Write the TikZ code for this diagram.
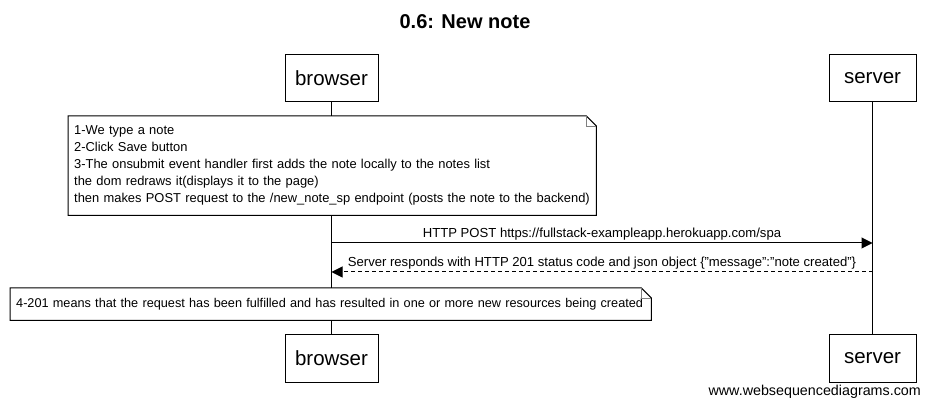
\documentclass[tikz,border=0pt]{standalone}
\usepackage{fontspec}
\setmainfont{Liberation Sans}
\usetikzlibrary{positioning}
\usetikzlibrary{arrows.meta}
\tikzset{
    actor/.style={draw, line width=1pt, fill=white, minimum height=47pt, inner sep=0pt, font=\fontsize{20.5}{24}\selectfont},
    lifeline/.style={line width=1pt},
    notebox/.style={fill=white, align=left, anchor=north west, inner xsep=6pt, inner ysep=0pt, font=\fontsize{12.9}{17}\selectfont},
    msg/.style={line width=1pt, -{Triangle[length=11pt,width=11pt]}},
    msglabel/.style={midway, above, inner sep=2pt, font=\fontsize{13.1}{15}\selectfont}
}
\newcommand{\foldednote}[1]{ % Takes a node name, draws its outline with a folded corner
    \draw[line width=1pt] (#1.north west) -- ([xshift=-10pt]#1.north east) -- ([yshift=-10pt]#1.north east) -- (#1.south east) -- (#1.south west) -- cycle;
    \draw[line width=0.6pt, gray] ([xshift=-10pt]#1.north east) -- ([xshift=-10pt,yshift=-10pt]#1.north east) -- ([yshift=-10pt]#1.north east);
}

\begin{document}
\begin{tikzpicture}[x=1pt, y=-1pt]
        \useasboundingbox[fill=white] (0,0) rectangle (930,406);

        % Title
        \node[font=\bfseries\fontsize{20}{24}\selectfont] (title) at (465,22) {0.6: New note};

        % Participants
        \node[actor, minimum width=93pt] (browsertop) at (331.5,78.5) {browser};
        \node[actor, minimum width=87pt] (servertop) at (872.5,78.5) {server};
        \node[actor, minimum width=93pt] (browserbot) at (331.5,358.5) {browser};
        \node[actor, minimum width=87pt] (serverbot) at (872.5,358.5) {server};

        % Lifelines
        \draw[lifeline] (browsertop) -- (browserbot);
        \draw[lifeline] (servertop) -- (serverbot);

        % Notes
        \node[notebox, minimum width=528pt, minimum height=99pt, text width=516pt] (notea) at (68,116) {1-We type a note\\2-Click Save button\\3-The onsubmit event handler first adds the note locally to the notes list\\the dom redraws it(displays it to the page)\\then makes POST request to the /new\_note\_sp endpoint (posts the note to the backend)};
        \foldednote{notea}
        \node[notebox, font=\fontsize{12.7}{17}\selectfont, minimum width=641pt, minimum height=32pt, text width=629pt] (noteb) at (10,288) {4-201 means that the request has been fulfilled and has resulted in one or more new resources being created};
        \foldednote{noteb}

        % Messages
        \coordinate (posta) at (browsertop.south |- 0,243);
        \coordinate (postb) at (servertop.south |- 0,243);
        \coordinate (respa) at (servertop.south |- 0,272);
        \coordinate (respb) at (browsertop.south |- 0,272);
        \draw[msg] (posta) -- (postb) node[msglabel] {HTTP POST https://fullstack-exampleapp.herokuapp.com/spa};
        \draw[msg, dash pattern=on 4pt off 3pt] (respa) -- (respb) node[msglabel] {Server responds with HTTP 201 status code and json object \{"message":"note created"\}};

        % Footer
        \node[anchor=east, inner sep=0pt, font=\fontsize{14.3}{16}\selectfont] (footer) at (921,392) {www.websequencediagrams.com};
    \end{tikzpicture}
\end{document}
